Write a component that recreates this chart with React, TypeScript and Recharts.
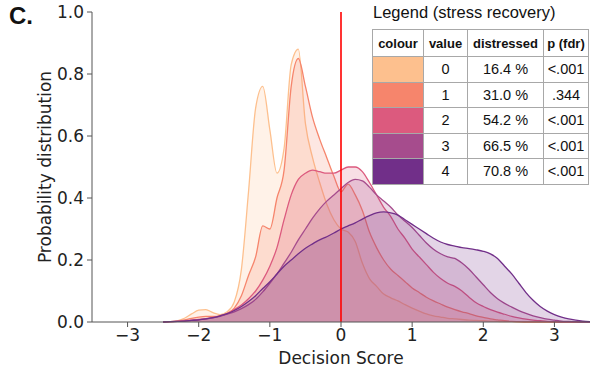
import React from 'react';
import { ComposedChart, Area, XAxis, YAxis, ReferenceLine } from 'recharts';

// decision score grid (x) and the density of each stress-recovery group
const xs = [
  -2.5, -2.4, -2.3, -2.2, -2.1, -2.0, -1.9, -1.8, -1.7, -1.6,
  -1.5, -1.4, -1.3, -1.2, -1.1, -1.0, -0.9, -0.8, -0.7, -0.6,
  -0.5, -0.4, -0.3, -0.2, -0.1, 0, 0.1, 0.2, 0.3, 0.4,
  0.5, 0.6, 0.7, 0.8, 0.9, 1.0, 1.1, 1.2, 1.3, 1.4,
  1.5, 1.6, 1.7, 1.8, 1.9, 2.0, 2.1, 2.2, 2.3, 2.4,
  2.5, 2.6, 2.7, 2.8, 2.9, 3.0, 3.1, 3.2, 3.3, 3.4, 3.5,
];

const dens0 = [
  0, 0.001, 0.004, 0.012, 0.026, 0.038, 0.04, 0.03, 0.024, 0.033,
  0.065, 0.17, 0.42, 0.69, 0.76, 0.62, 0.48, 0.56, 0.83, 0.88,
  0.64, 0.53, 0.45, 0.38, 0.33, 0.3, 0.29, 0.26, 0.19, 0.14,
  0.115, 0.09, 0.078, 0.068, 0.056, 0.045, 0.035, 0.026, 0.02, 0.016,
  0.012, 0.01, 0.008, 0.006, 0.005, 0.004, 0.003, 0.002, 0.001, 0.001,
  0, 0, 0, 0, 0, 0, 0, 0, 0, 0, 0,
];

const dens1 = [
  0, 0.001, 0.003, 0.007, 0.012, 0.016, 0.018, 0.018, 0.02, 0.028,
  0.045, 0.085, 0.15, 0.21, 0.31, 0.3, 0.4, 0.49, 0.76, 0.85,
  0.76, 0.66, 0.59, 0.53, 0.47, 0.42, 0.445, 0.41, 0.36, 0.29,
  0.24, 0.2, 0.17, 0.15, 0.13, 0.11, 0.095, 0.08, 0.068, 0.058,
  0.048, 0.04, 0.033, 0.027, 0.02, 0.015, 0.01, 0.007, 0.004, 0.002,
  0.001, 0, 0, 0, 0, 0, 0, 0, 0, 0, 0,
];

const dens2 = [
  0, 0.001, 0.002, 0.004, 0.006, 0.008, 0.011, 0.015, 0.02, 0.027,
  0.04, 0.055, 0.075, 0.1, 0.135, 0.18, 0.24, 0.33, 0.41, 0.46,
  0.48, 0.49, 0.485, 0.48, 0.48, 0.49, 0.5, 0.5, 0.485, 0.45,
  0.41, 0.37, 0.34, 0.3, 0.27, 0.235, 0.21, 0.185, 0.16, 0.14,
  0.125, 0.115, 0.1, 0.08, 0.062, 0.05, 0.04, 0.032, 0.025, 0.018,
  0.013, 0.009, 0.006, 0.004, 0.002, 0.001, 0, 0, 0, 0, 0,
];

const dens3 = [
  0, 0.001, 0.002, 0.003, 0.005, 0.007, 0.01, 0.013, 0.018, 0.025,
  0.033, 0.043, 0.056, 0.073, 0.097, 0.125, 0.155, 0.19, 0.225, 0.265,
  0.3, 0.335, 0.365, 0.39, 0.41, 0.43, 0.45, 0.46, 0.455, 0.435,
  0.41, 0.39, 0.37, 0.345, 0.325, 0.305, 0.28, 0.255, 0.235, 0.22,
  0.21, 0.205, 0.19, 0.17, 0.145, 0.12, 0.095, 0.075, 0.06, 0.048,
  0.037, 0.028, 0.02, 0.014, 0.009, 0.006, 0.003, 0.002, 0.001, 0, 0,
];

const dens4 = [
  0, 0.001, 0.002, 0.003, 0.005, 0.007, 0.01, 0.014, 0.02, 0.027,
  0.037, 0.05, 0.066, 0.085, 0.108, 0.13, 0.155, 0.18, 0.2, 0.22,
  0.238, 0.252, 0.265, 0.275, 0.287, 0.3, 0.31, 0.32, 0.332, 0.343,
  0.352, 0.355, 0.352, 0.345, 0.33, 0.315, 0.3, 0.285, 0.27, 0.258,
  0.25, 0.245, 0.24, 0.237, 0.233, 0.228, 0.22, 0.205, 0.18, 0.155,
  0.125, 0.095, 0.07, 0.05, 0.035, 0.024, 0.016, 0.01, 0.006, 0.003, 0.001,
];

// legend table
const groupValues = ['0', '1', '2', '3', '4'];
const distressed = ['16.4 %', '31.0 %', '54.2 %', '66.5 %', '70.8 %'];
const pFdr = ['<.001', '.344', '<.001', '<.001', '<.001'];
const colours = ['#fdc08e', '#f6856c', '#dc5a7e', '#a64c8d', '#712f89'];

const xTicks = [-3, -2, -1, 0, 1, 2, 3];
const yTicks = [0, 0.2, 0.4, 0.6, 0.8, 1.0];

const series = [dens0, dens1, dens2, dens3, dens4];
const data = xs.map((x, i) => {
  const row: Record<string, number> = { x };
  series.forEach((s, k) => { row['v' + k] = s[i]; });
  return row;
});

const tickFont = { fontFamily: 'DejaVu Sans', fontSize: 17, fill: '#222' };

const cell: React.CSSProperties = {
  border: '1px solid #a8a8a8',
  textAlign: 'center',
  padding: 0,
};

const head: React.CSSProperties = { ...cell, fontSize: 13, fontWeight: 'bold' };

const App = () => {
  return (
    <div style={{ position: 'absolute', left: 0, top: 0, width: 591, height: 370, background: '#fff' }}>
      <ComposedChart width={591} height={370} data={data} margin={{ top: 12, right: 1, bottom: 0, left: 0 }}>
        <XAxis
          type="number"
          dataKey="x"
          domain={[-3.5, 3.5]}
          ticks={xTicks}
          allowDataOverflow
          height={48}
          stroke="#555"
          tickSize={5}
          tickMargin={2}
          tick={tickFont}
          tickFormatter={(v: number) => String(v).replace('-', '\u2212')}
        />
        <YAxis
          type="number"
          domain={[0, 1]}
          ticks={yTicks}
          width={92}
          stroke="#555"
          tickSize={5}
          tickMargin={3}
          tick={tickFont}
          tickFormatter={(v: number) => v.toFixed(1)}
        />
        {colours.map((c, k) => (
          <Area
            key={k}
            type="monotone"
            dataKey={'v' + k}
            stroke={c}
            strokeWidth={1.3}
            fill={c}
            fillOpacity={0.2}
            isAnimationActive={false}
            dot={false}
            activeDot={false}
          />
        ))}
        <ReferenceLine x={0} stroke="#ff0000" strokeWidth={1.6} />
      </ComposedChart>

      <div style={{ position: 'absolute', left: 9, top: 2, fontFamily: 'Liberation Sans, Arial', fontWeight: 'bold', fontSize: 24, color: '#111' }}>
        C.
      </div>
      <div
        style={{
          position: 'absolute', left: 45, top: 167, transform: 'translate(-50%, -50%) rotate(-90deg)',
          fontFamily: 'DejaVu Sans', fontSize: 17, color: '#222', whiteSpace: 'nowrap',
        }}
      >
        Probability distribution
      </div>
      <div
        style={{
          position: 'absolute', left: 341, top: 358, transform: 'translate(-50%, -50%)',
          fontFamily: 'DejaVu Sans', fontSize: 17, color: '#222', whiteSpace: 'nowrap',
        }}
      >
        Decision Score
      </div>

      <div style={{ position: 'absolute', left: 373, top: 3, fontFamily: 'Liberation Sans, Arial', fontSize: 16.5, color: '#111' }}>
        Legend (stress recovery)
      </div>
      <table
        style={{
          position: 'absolute', left: 372, top: 29, width: 217, borderCollapse: 'collapse',
          fontFamily: 'Liberation Sans, Arial', fontSize: 14.5, color: '#111', background: '#fff',
        }}
      >
        <thead>
          <tr style={{ height: 27 }}>
            <th style={{ ...head, width: 50 }}>colour</th>
            <th style={{ ...head, width: 43 }}>value</th>
            <th style={{ ...head, width: 75 }}>distressed</th>
            <th style={head}>p (fdr)</th>
          </tr>
        </thead>
        <tbody>
          {groupValues.map((v, i) => (
            <tr key={v} style={{ height: 25.5 }}>
              <td style={{ ...cell, background: colours[i] }} />
              <td style={cell}>{v}</td>
              <td style={cell}>{distressed[i]}</td>
              <td style={cell}>{pFdr[i]}</td>
            </tr>
          ))}
        </tbody>
      </table>
    </div>
  );
};

export default App;
